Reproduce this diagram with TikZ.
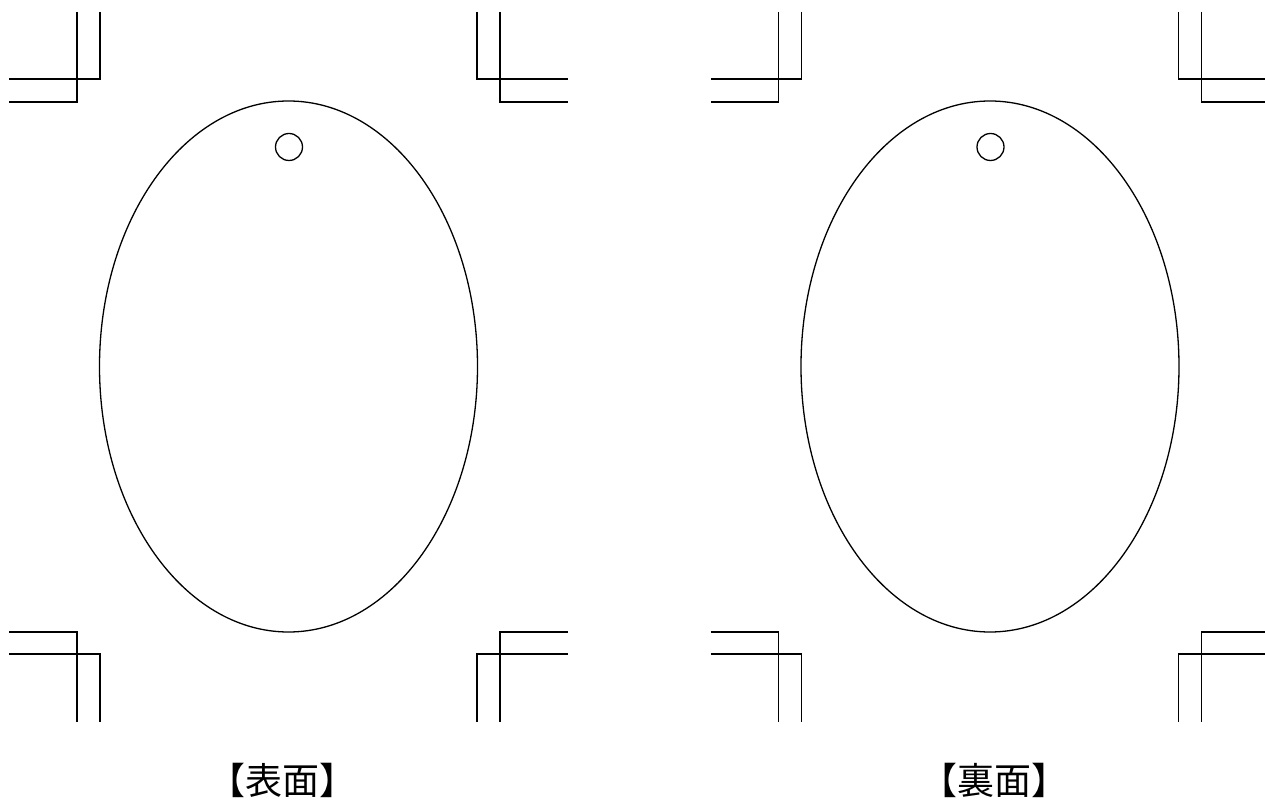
\documentclass[tikz,border=0pt]{standalone}
\usepackage{fontspec}
\newfontfamily\cjk{Noto Sans CJK JP}
\begin{document}
\begin{tikzpicture}[x=0.5pt,y=-0.5pt,
  mark line/.style={line width=0.75pt, line cap=butt, line join=miter},
  card line/.style={line width=0.65pt},
  label text/.style={font=\cjk\fontsize{18.5pt}{22pt}\selectfont, inner sep=0pt, anchor=base}]
\useasboundingbox (0,0) rectangle (1265,806);
\foreach \dx in {0,701.5}{
  \begin{scope}[xshift=\dx*0.5pt]
    % top-left
    \draw[mark line] (77,12) -- (77,102) -- (9,102);
    \draw[mark line] (100,12) -- (100,79) -- (9,79);
    % top-right
    \draw[mark line] (477,12) -- (477,79) -- (568,79);
    \draw[mark line] (500,12) -- (500,102) -- (568,102);
    % bottom-left
    \draw[mark line] (9,632) -- (77,632) -- (77,722);
    \draw[mark line] (9,654) -- (100,654) -- (100,722);
    % bottom-right
    \draw[mark line] (568,632) -- (500,632) -- (500,722);
    \draw[mark line] (568,654) -- (477,654) -- (477,722);
    % card
    \draw[card line] (288.5,366.5) ellipse [x radius=189, y radius=265.5];
    \draw[card line] (289,147) circle [radius=13.5];
  \end{scope}
}
\node[label text] (front) at (282,795) {【表面】};
\node[label text] (back) at (994.5,795) {【裏面】};
\end{tikzpicture}
\end{document}
